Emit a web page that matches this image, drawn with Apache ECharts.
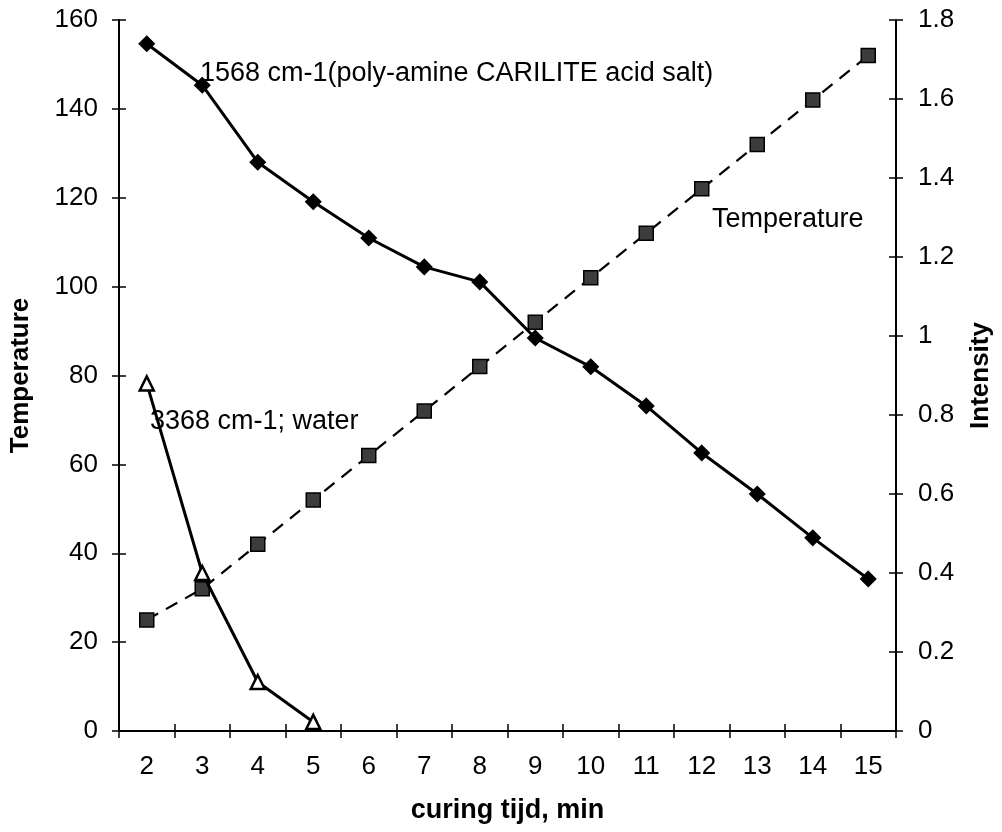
<!DOCTYPE html>
<html>
<head>
<meta charset="utf-8">
<script src="https://cdn.jsdelivr.net/npm/echarts@6/dist/echarts.min.js"></script>
<style>
  html, body { margin: 0; padding: 0; background: #fff; }
  #chart { width: 1002px; height: 832px; }
</style>
</head>
<body>
<div id="chart"></div>
<script>
var times = ['2', '3', '4', '5', '6', '7', '8', '9', '10', '11', '12', '13', '14', '15'];
// intensity 1568 cm-1 (right axis)
var band1568 = [1.74, 1.635, 1.44, 1.34, 1.248, 1.175, 1.137, 0.995, 0.922, 0.823, 0.704, 0.600, 0.489, 0.385];
// intensity 3368 cm-1 water (right axis)
var band3368 = [0.88, 0.40, 0.124, 0.023];
// temperature (left axis)
var temperature = [25, 32, 42, 52, 62, 72, 82, 92, 102, 112, 122, 132, 142, 152];

var FONT = '"Liberation Sans", Arial, sans-serif';

var myChart = echarts.init(document.getElementById('chart'));

var tickStyle = { color: '#000', width: 1.5 };

var option = {
    backgroundColor: '#fff',
    animation: false,
    textStyle: { fontFamily: FONT, color: '#000' },
    grid: { left: 118, right: 102, top: 20, bottom: 101 },
    xAxis: [{
        type: 'category',
        position: 'bottom',
        data: times,
        boundaryGap: true,
        name: 'curing tijd, min',
        nameLocation: 'middle',
        nameGap: 66,
        nameTextStyle: { fontFamily: FONT, fontSize: 27, fontWeight: 'bold', color: '#000' },
        axisLine: { lineStyle: { color: '#000', width: 2 } },
        axisTick: { show: true, inside: false, length: 7, lineStyle: tickStyle },
        axisLabel: { fontFamily: FONT, fontSize: 26, color: '#000', margin: 23 },
        splitLine: { show: false }
    }, {
        // inner half of the crossing ticks
        type: 'category',
        position: 'bottom',
        data: times,
        boundaryGap: true,
        axisLine: { show: false },
        axisTick: { show: true, inside: true, length: 7, lineStyle: tickStyle },
        axisLabel: { show: false },
        splitLine: { show: false }
    }],
    yAxis: [{
        type: 'value',
        position: 'left',
        min: 0,
        max: 160,
        interval: 20,
        name: 'Temperature',
        nameLocation: 'middle',
        nameRotate: 90,
        nameGap: 85,
        nameTextStyle: { fontFamily: FONT, fontSize: 26, fontWeight: 'bold', color: '#000' },
        axisLine: { show: true, lineStyle: { color: '#000', width: 2 } },
        axisTick: { show: true, inside: false, length: 7, lineStyle: tickStyle },
        axisLabel: { fontFamily: FONT, fontSize: 26, color: '#000', margin: 21 },
        splitLine: { show: false }
    }, {
        type: 'value',
        position: 'right',
        min: 0,
        max: 1.8,
        interval: 0.2,
        name: 'Intensity',
        nameLocation: 'middle',
        nameRotate: 90,
        nameGap: 72,
        nameTextStyle: { fontFamily: FONT, fontSize: 26, fontWeight: 'bold', color: '#000' },
        axisLine: { show: true, lineStyle: { color: '#000', width: 2 } },
        axisTick: { show: true, inside: false, length: 7, lineStyle: tickStyle },
        axisLabel: { fontFamily: FONT, fontSize: 26, color: '#000', margin: 22 },
        splitLine: { show: false }
    }, {
        type: 'value',
        position: 'left',
        min: 0,
        max: 160,
        interval: 20,
        axisLine: { show: false },
        axisTick: { show: true, inside: true, length: 7, lineStyle: tickStyle },
        axisLabel: { show: false },
        splitLine: { show: false }
    }, {
        type: 'value',
        position: 'right',
        min: 0,
        max: 1.8,
        interval: 0.2,
        axisLine: { show: false },
        axisTick: { show: true, inside: true, length: 7, lineStyle: tickStyle },
        axisLabel: { show: false },
        splitLine: { show: false }
    }],
    graphic: [{
        type: 'text',
        left: 200,
        top: 60,
        style: { text: '1568 cm-1(poly-amine CARILITE acid salt)', font: '27px ' + FONT, fill: '#000' }
    }, {
        type: 'text',
        left: 712,
        top: 206,
        style: { text: 'Temperature', font: '27px ' + FONT, fill: '#000' }
    }, {
        type: 'text',
        left: 150,
        top: 408,
        style: { text: '3368 cm-1; water', font: '27px ' + FONT, fill: '#000' }
    }],
    series: [{
        name: 'Temperature',
        type: 'line',
        xAxisIndex: 0,
        yAxisIndex: 0,
        data: temperature,
        symbol: 'rect',
        symbolSize: 14,
        lineStyle: { color: '#000', width: 2.2, type: [13, 9] },
        itemStyle: { color: '#3c3c3c', borderColor: '#000', borderWidth: 1.5 },
        z: 3
    }, {
        name: '1568 cm-1',
        type: 'line',
        xAxisIndex: 0,
        yAxisIndex: 1,
        data: band1568,
        symbol: 'diamond',
        symbolSize: 15,
        lineStyle: { color: '#000', width: 3 },
        itemStyle: { color: '#000', borderColor: '#000', borderWidth: 1.5 },
        z: 4
    }, {
        name: '3368 cm-1',
        type: 'line',
        xAxisIndex: 0,
        yAxisIndex: 1,
        data: band3368,
        symbol: 'triangle',
        symbolSize: 14,
        lineStyle: { color: '#000', width: 3 },
        itemStyle: { color: '#fff', borderColor: '#000', borderWidth: 2.5 },
        z: 4
    }]
};

myChart.setOption(option);
</script>
</body>
</html>
